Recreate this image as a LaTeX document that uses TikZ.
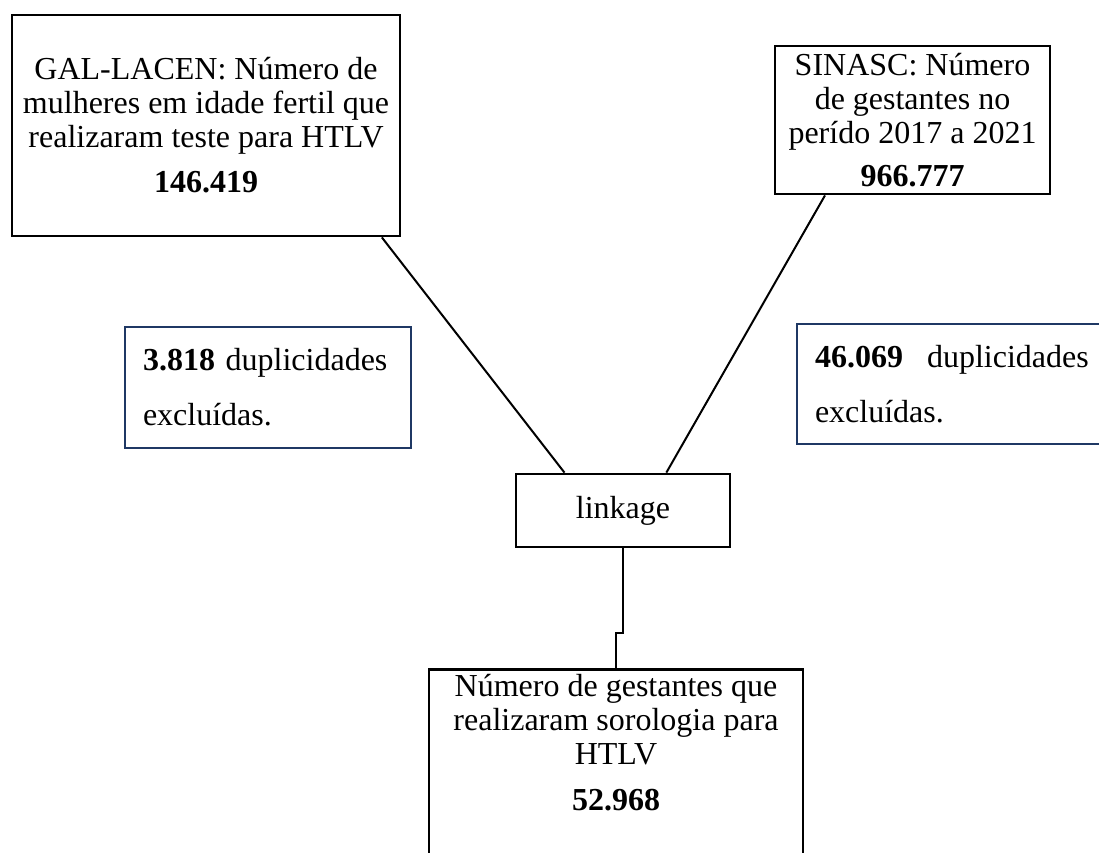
\documentclass[tikz,border=0pt]{standalone}
\usepackage{fontspec}
\setmainfont{Liberation Serif}
\usepackage{tikz}
\usetikzlibrary{positioning, calc}
\definecolor{dupnavy}{RGB}{31, 56, 100}

\begin{document}
\begin{tikzpicture}[x=1pt, y=-1pt,
    every node/.style={font=\fontsize{32}{34}\selectfont},
    mainbox/.style={draw, line width=2.8pt, align=center, inner sep=0pt},
    dupbox/.style={draw=dupnavy, line width=1.8pt, align=left, inner xsep=18pt},
    link/.style={line width=2pt}]
  \useasboundingbox (0, 0) rectangle (1099, 852);
  \clip (0, 0) rectangle (1099, 852);

  % sources
  \node[mainbox, minimum width=388pt, minimum height=221pt] (gal) at (206, 125.5)
    {GAL-LACEN: Número de\\mulheres em idade fertil que\\realizaram teste para HTLV\\[11pt]\textbf{146.419}};
  \node[mainbox, minimum width=275pt, minimum height=148pt] (sinasc) at (912.5, 120)
    {SINASC: Número\\de gestantes no\\perído 2017 a 2021\\[9pt]\textbf{966.777}};

  % duplicates
  \node[dupbox, minimum width=286pt, minimum height=121pt, text width=250pt] (dupgal) at (268, 387.5)
    {\textbf{3.818} duplicidades\\[21pt]excluídas.};
  \node[dupbox, minimum width=320pt, minimum height=120pt, text width=284pt] (dupsinasc) at (957, 384)
    {\textbf{46.069}\hspace{24pt}duplicidades\\[21pt]excluídas.};

  \node[mainbox, minimum width=214pt, minimum height=73pt] (linkage) at (623, 510.5) {linkage};

  % result
  \node[mainbox, minimum width=374pt, minimum height=260pt, anchor=north] (gestantes) at (616, 668) {};
  \node[align=center, anchor=north] (gestantestxt) at ([yshift=-3pt]gestantes.north)
    {Número de gestantes que\\realizaram sorologia para\\HTLV\\[12pt]\textbf{52.968}};

  \draw[link] ($(gal.south west)!0.95!(gal.south east)$) -- ($(linkage.north west)!0.23!(linkage.north east)$);
  \draw[link] ($(sinasc.south west)!0.185!(sinasc.south east)$) -- ($(linkage.north west)!0.70!(linkage.north east)$);
  \draw[link] (linkage.south) -- ++(0, 85) -| (gestantes.north);
\end{tikzpicture}
\end{document}
